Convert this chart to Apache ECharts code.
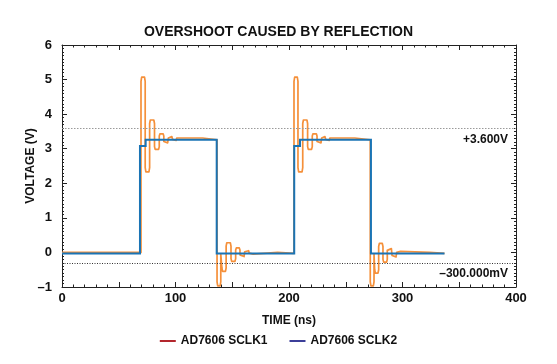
<!DOCTYPE html>
<html>
<head>
<meta charset="utf-8">
<script src="https://cdn.jsdelivr.net/npm/echarts@6/dist/echarts.min.js"></script>
<style>
html,body{margin:0;padding:0;background:#fff;}
#c{width:557px;height:364px;}
</style>
</head>
<body>
<div id="c"></div>
<script>
// ---- data (time in ns, voltage in V) ----
const titleText = 'OVERSHOOT CAUSED BY REFLECTION';
const xTicks = [0, 100, 200, 300, 400];
const yTicks = [-1, 0, 1, 2, 3, 4, 5, 6];
const seriesNames = ['AD7606 SCLK1', 'AD7606 SCLK2'];

// SCLK2 (blue trace)
const sclk2 = [
  [0,-0.03],[68.7,-0.03],[68.7,3.08],[73.7,3.08],[73.7,3.26],[136.3,3.26],
  [136.3,-0.03],[204.6,-0.03],[204.6,3.08],[209.7,3.08],[209.7,3.26],[272.2,3.26],
  [272.2,-0.03],[337,-0.03]
];

// SCLK1 (orange trace, ringing)
const sclk1 = [
  [0,0],[69.6,0],
  [69.6,4.95],[70.2,5.07],[72.7,5.07],[73.3,4.95],
  [73.3,2.45],[73.9,2.33],[76.6,2.33],[77.2,2.45],
  [77.2,3.73],[77.8,3.83],[80.9,3.83],[81.5,3.73],
  [81.5,3.06],[82.1,2.98],[85.1,2.98],[85.7,3.06],
  [85.7,3.37],[86.3,3.43],[89.1,3.43],[89.7,3.37],
  [89.7,3.21],[90.3,3.17],[93.1,3.17],[93.7,3.21],
  [93.7,3.31],[94.3,3.35],[96.8,3.35],[97.4,3.31],
  [97.4,3.27],[98.0,3.24],[100.5,3.24],[101.1,3.27],
  [101.1,3.31],[124,3.31],[125,3.26],[136.6,3.26],
  [136.6,-0.85],[137.2,-0.97],[139.3,-0.97],[139.9,-0.85],
  [139.9,-0.05],[140.2,0.0],[140.6,0.0],[140.9,-0.05],
  [140.9,-0.45],[141.5,-0.55],[144.0,-0.55],[144.6,-0.45],
  [144.6,0.18],[145.2,0.28],[148.3,0.28],[148.9,0.18],
  [148.9,-0.18],[149.5,-0.26],[152.4,-0.26],[153.0,-0.18],
  [153.0,0.07],[153.6,0.13],[156.2,0.13],[156.8,0.07],
  [156.8,-0.07],[157.4,-0.12],[160.4,-0.12],[161.0,-0.07],
  [161.0,0.02],[161.6,0.05],[164.4,0.05],[165.0,0.02],
  [165.0,-0.02],[165.6,-0.05],[168.4,-0.05],[169.0,-0.02],
  [169.0,0.0],[190,0.0],[191,-0.03],[204.4,-0.03],
  [204.4,4.95],[205.0,5.07],[207.3,5.07],[207.9,4.95],
  [207.9,2.45],[208.5,2.33],[211.5,2.33],[212.1,2.45],
  [212.1,3.73],[212.7,3.83],[215.8,3.83],[216.4,3.73],
  [216.4,3.06],[217.0,2.98],[219.9,2.98],[220.5,3.06],
  [220.5,3.37],[221.1,3.43],[224.1,3.43],[224.7,3.37],
  [224.7,3.21],[225.3,3.17],[228.2,3.17],[228.8,3.21],
  [228.8,3.31],[229.4,3.35],[231.7,3.35],[232.3,3.31],
  [232.3,3.27],[232.9,3.24],[235.4,3.24],[236.0,3.27],
  [236.0,3.31],[258,3.31],[259,3.26],[271.6,3.26],
  [271.6,-0.85],[272.2,-0.97],[274.3,-0.97],[274.9,-0.85],
  [274.9,-0.05],[275.2,0.0],[275.5,-0.05],
  [275.5,-0.5],[276.1,-0.6],[278.4,-0.6],[279.0,-0.5],
  [279.0,0.17],[279.6,0.26],[282.2,0.26],[282.8,0.17],
  [282.8,-0.2],[283.4,-0.28],[286.0,-0.28],[286.6,-0.2],
  [286.6,0.06],[287.2,0.11],[290.2,0.11],[290.8,0.06],
  [290.8,-0.09],[291.4,-0.13],[294.3,-0.13],[294.9,-0.09],
  [294.9,0.0],[295.5,0.03],[298.3,0.03],[298.9,0.0],
  [298.9,-0.01],[324,0.0],[325,-0.03],[337,-0.03]
];

// reference levels
const refLevels = [3.6, -0.3];
const refLabels = ['+3.600V', '\u2013300.000mV'];

const chart = echarts.init(document.getElementById('c'), null, {renderer: 'canvas'});
const font = '"Liberation Sans", Arial, Helvetica, sans-serif';
const axisLbl = {fontFamily: font, fontWeight: 'bold', fontSize: 13, color: '#111'};
const nameLbl = {fontFamily: font, fontWeight: 'bold', fontSize: 12, color: '#111'};

const option = {
  backgroundColor: '#fff',
  animation: false,
  title: {
    text: titleText, left: 'center', top: 20,
    textStyle: {fontFamily: font, fontWeight: 'bold', fontSize: 14, color: '#111'}
  },
  grid: {left: 62, right: 41, top: 45, bottom: 77},
  legend: {
    bottom: 12, left: 'center', itemGap: 22, itemWidth: 16, itemHeight: 2, icon: 'rect',
    textStyle: {fontFamily: font, fontWeight: 'bold', fontSize: 12, color: '#111'},
    data: [
      {name: seriesNames[0], itemStyle: {color: '#b3262d'}},
      {name: seriesNames[1], itemStyle: {color: '#3c3f99'}}
    ]
  },
  xAxis: [{
    type: 'value', min: 0, max: 400, interval: 50,
    name: 'TIME (ns)', nameLocation: 'middle', nameGap: 28,
    nameTextStyle: nameLbl,
    axisLine: {show: true, onZero: false, lineStyle: {color: '#222', width: 1}},
    axisTick: {inside: true, length: 5, lineStyle: {color: '#222'}},
    minorTick: {show: true, splitNumber: 5, length: 2.5, lineStyle: {color: '#222'}},
    splitLine: {show: false},
    axisLabel: Object.assign({margin: 5, formatter: v => (xTicks.indexOf(v) >= 0 ? String(v) : '')}, axisLbl)
  }, {
    type: 'value', min: 0, max: 400, interval: 50, position: 'top',
    axisLine: {show: true, onZero: false, lineStyle: {color: '#222', width: 1}},
    axisTick: {inside: true, length: 5, lineStyle: {color: '#222'}},
    minorTick: {show: true, splitNumber: 5, length: 2.5, lineStyle: {color: '#222'}},
    splitLine: {show: false}, axisLabel: {show: false}
  }],
  yAxis: [{
    type: 'value', min: -1, max: 6, interval: 1,
    name: 'VOLTAGE (V)', nameLocation: 'middle', nameGap: 25, nameRotate: 90,
    nameMoveOverlap: false,
    nameTextStyle: nameLbl,
    axisLine: {show: true, onZero: false, lineStyle: {color: '#222', width: 1}},
    axisTick: {inside: true, length: 5, lineStyle: {color: '#222'}},
    minorTick: {show: true, splitNumber: 10, length: 2, lineStyle: {color: '#222'}},
    splitLine: {show: false},
    axisLabel: Object.assign({margin: 10, formatter: v => (v < 0 ? '\u2013' + Math.abs(v) : String(v))}, axisLbl)
  }, {
    type: 'value', min: -1, max: 6, interval: 1, position: 'right',
    axisLine: {show: true, onZero: false, lineStyle: {color: '#222', width: 1}},
    axisTick: {inside: true, length: 5, lineStyle: {color: '#222'}},
    minorTick: {show: true, splitNumber: 10, length: 2, lineStyle: {color: '#222'}},
    splitLine: {show: false}, axisLabel: {show: false}
  }],
  series: [{
    name: seriesNames[0], type: 'line', data: sclk1, showSymbol: false, symbol: 'none',
    lineStyle: {color: '#f5903a', width: 1.7, join: 'round'},
    itemStyle: {color: '#f5903a'},
    z: 2,
    markLine: {
      silent: true, symbol: 'none',
      data: [
        {yAxis: refLevels[0], lineStyle: {color: '#9a9a9a', type: [1.5, 1.5], width: 1},
         label: {formatter: refLabels[0], position: 'insideEndBottom', distance: [8, 6]}},
        {yAxis: refLevels[1], lineStyle: {color: '#333', type: [1, 1.5], width: 1},
         label: {formatter: refLabels[1], position: 'insideEndBottom', distance: [8, 5]}}
      ],
      label: {fontFamily: font, fontWeight: 'bold', fontSize: 12, color: '#111'}
    }
  }, {
    name: seriesNames[1], type: 'line', data: sclk2, showSymbol: false, symbol: 'none',
    lineStyle: {color: '#1a74b5', width: 2, join: 'miter'},
    itemStyle: {color: '#1a74b5'},
    z: 3
  }]
};
chart.setOption(option);
</script>
</body>
</html>
